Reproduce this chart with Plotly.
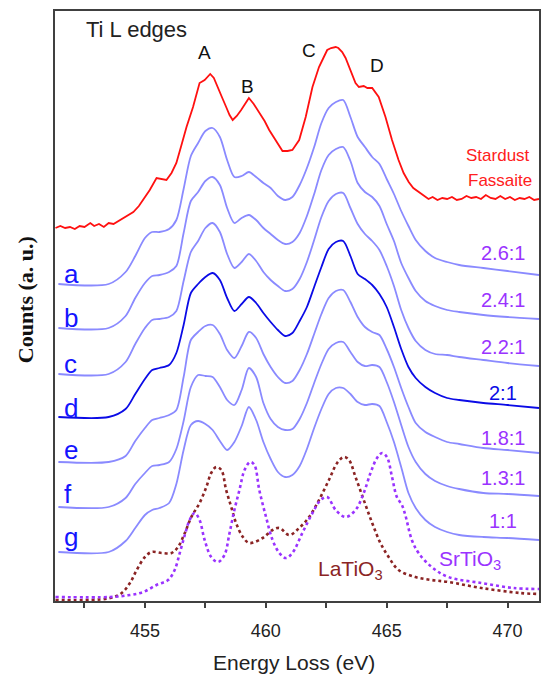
import plotly.graph_objects as go

# ---------------- data (arbitrary counts vs energy loss, eV) ----------------
ENERGY_GRID = [451.42, 453.5, 454.2, 454.6, 455.0, 455.3, 455.6, 456.0, 456.3, 456.6,
               456.9, 457.2, 457.5, 457.8, 458.1, 458.4, 458.7, 459.0, 459.3, 459.6,
               459.9, 460.2, 460.5, 460.8, 461.1, 461.4, 461.7, 462.0, 462.3, 462.6,
               462.9, 463.2, 463.5, 463.8, 464.1, 464.4, 464.7, 465.0, 465.3, 465.6,
               465.9, 466.2, 466.6, 467.0, 467.5, 468.0, 469.0, 470.0, 471.3]

CURVE_A = [0, 0, 12, 28, 46, 52, 52, 55, 64, 95,
           128, 141, 153, 156, 147, 124, 107, 108, 112, 107,
           101, 96, 88, 84, 87, 99, 116, 137, 161, 176,
           182, 184, 167, 147, 137, 127, 120, 105, 90, 73,
           58, 44, 33, 26, 22, 19, 16, 13, 9]
CURVE_B = [0, 0, 12, 30, 45, 52, 53, 56, 62, 95,
           127, 136, 147, 151, 143, 120, 105, 110, 113, 108,
           100, 94, 88, 84, 86, 95, 112, 134, 158, 173,
           179, 181, 167, 145, 136, 131, 122, 104, 87, 65,
           50, 37, 27, 22, 18, 16, 13, 11, 9]
CURVE_C = [0, 0, 12, 30, 46, 54, 55, 57, 63, 93,
           122, 133, 146, 151, 142, 120, 106, 112, 120, 113,
           102, 94, 88, 83, 85, 95, 112, 134, 157, 173,
           180, 181, 166, 150, 140, 133, 124, 108, 88, 64,
           46, 33, 24, 20, 19, 17, 14, 11, 8]
CURVE_D = [0, 0, 8, 23, 38, 47, 49, 52, 64, 92,
           124, 133, 140, 144, 137, 119, 106, 113, 120, 114,
           104, 95, 87, 81, 84, 96, 110, 130, 150, 168,
           175, 176, 161, 143, 138, 132, 123, 110, 90, 68,
           50, 39, 30, 24, 19, 17, 14, 12, 9]
CURVE_E = [0, 0, 6, 21, 34, 42, 44, 47, 52, 85,
           122, 130, 136, 137, 128, 112, 104, 116, 130, 124,
           108, 95, 85, 79, 81, 92, 108, 128, 148, 164,
           171, 172, 160, 145, 135, 130, 127, 113, 95, 74,
           55, 39, 30, 25, 20, 18, 14, 12, 9]
CURVE_F = [0, 0, 9, 23, 34, 41, 42, 45, 58, 86,
           120, 132, 131, 130, 120, 107, 102, 117, 139, 130,
           104, 88, 80, 77, 78, 88, 104, 124, 143, 158,
           164, 165, 155, 145, 141, 142, 140, 125, 105, 82,
           60, 45, 33, 26, 21, 18, 14, 13, 11]
CURVE_G = [0, 0, 11, 24, 37, 42, 44, 49, 68, 102,
           127, 131, 128, 122, 111, 102, 110, 126, 145, 132,
           110, 93, 80, 75, 77, 86, 103, 124, 143, 158,
           164, 164, 158, 150, 147, 148, 146, 130, 110, 85,
           59, 44, 32, 25, 20, 17, 15, 14, 12]

BLUE_CURVES = [CURVE_A, CURVE_B, CURVE_C, CURVE_D, CURVE_E, CURVE_F, CURVE_G]
SAMPLE_LETTERS = ["a", "b", "c", "d", "e", "f", "g"]
RATIO_LABELS = ["2.6:1", "2.4:1", "2.2:1", "2:1", "1.8:1", "1.3:1", "1:1"]
STACK_OFFSETS = [317, 273, 227, 184, 139, 94, 49]

STARDUST = [(451.30, 373), (451.5, 375), (451.7, 373), (451.9, 374), (452.1, 372),
            (452.3, 375), (452.5, 374), (452.74, 378), (452.9, 375), (453.1, 377),
            (453.3, 374), (453.5, 378), (453.7, 377), (453.97, 381), (454.2, 385),
            (454.52, 389), (454.75, 395), (454.93, 401), (455.2, 411), (455.48, 423),
            (455.7, 422), (455.89, 421), (456.1, 428), (456.30, 438), (456.5, 455),
            (456.72, 474), (456.99, 494), (457.26, 518), (457.47, 521), (457.60, 524),
            (457.70, 527), (457.85, 523), (458.02, 514), (458.2, 503), (458.36, 494),
            (458.50, 486), (458.63, 481), (458.8, 485), (458.98, 491), (459.15, 498),
            (459.30, 503), (459.5, 497), (459.73, 488), (459.95, 480), (460.14, 471),
            (460.35, 463), (460.56, 454), (460.69, 450), (460.9, 450), (461.10, 451),
            (461.38, 461), (461.65, 484), (461.93, 514), (462.20, 534), (462.40, 544),
            (462.54, 551), (462.70, 553), (462.89, 554), (463.0, 553), (463.16, 549),
            (463.30, 543), (463.44, 534), (463.71, 518), (463.85, 514), (464.05, 515),
            (464.2, 513), (464.40, 513), (464.67, 504), (464.95, 484), (465.22, 461),
            (465.49, 441), (465.7, 428), (465.91, 419), (466.1, 413), (466.32, 409),
            (466.5, 406), (466.73, 402), (466.9, 404), (467.1, 401), (467.3, 403),
            (467.5, 402), (467.7, 404), (467.9, 401), (468.1, 402), (468.3, 405),
            (468.5, 403), (468.7, 404), (468.9, 402), (469.1, 406), (469.3, 403),
            (469.5, 402), (469.7, 405), (469.9, 402), (470.1, 404), (470.3, 401),
            (470.5, 403), (470.7, 402), (470.9, 404), (471.1, 401), (471.3, 402)]

LATIO3 = [(451.30, 1), (452.74, 1), (453.56, 3), (454.04, 8), (454.38, 18), (454.66, 31),
          (455.00, 44), (455.28, 49), (455.69, 48), (456.10, 48), (456.37, 54), (456.65, 68),
          (456.92, 84), (457.26, 98), (457.54, 114), (457.74, 128), (457.95, 134),
          (458.16, 131), (458.36, 111), (458.57, 94), (458.77, 78), (459.05, 64),
          (459.32, 58), (459.87, 63), (460.28, 71), (460.56, 73), (460.97, 66),
          (461.38, 73), (461.79, 84), (462.20, 101), (462.61, 121), (462.95, 138),
          (463.23, 144), (463.44, 141), (463.71, 124), (464.05, 101), (464.40, 78),
          (464.74, 58), (465.08, 44), (465.49, 31), (466.18, 24), (466.86, 21),
          (467.55, 19), (468.92, 13), (470.51, 8), (471.30, 7)]

SRTIO3 = [(451.30, 4), (453.56, 4), (454.38, 6), (454.93, 9), (455.48, 16), (455.96, 21),
          (456.23, 31), (456.44, 48), (456.65, 66), (456.85, 81), (457.06, 88),
          (457.26, 81), (457.47, 61), (457.74, 44), (458.02, 39), (458.29, 46),
          (458.50, 68), (458.70, 91), (458.91, 111), (459.12, 131), (459.36, 139),
          (459.53, 136), (459.73, 111), (460.01, 84), (460.28, 61), (460.56, 48),
          (460.83, 43), (461.10, 48), (461.51, 68), (461.93, 88), (462.27, 101),
          (462.54, 104), (462.89, 91), (463.30, 84), (463.71, 91), (464.05, 108),
          (464.33, 128), (464.60, 143), (464.81, 148), (465.01, 144), (465.22, 124),
          (465.42, 104), (465.63, 96), (465.77, 86), (466.04, 61), (466.32, 48),
          (466.86, 34), (467.55, 24), (468.92, 18), (470.23, 13), (471.30, 12)]

# ---------------- figure ----------------
SANS = "Liberation Sans, Arial, sans-serif"
LIGHT_BLUE = "#8a8aff"
DARK_BLUE = "#0b0be6"
PURPLE = "#9a33ff"
BROWN = "#8b2424"

fig = go.Figure()

fig.add_trace(go.Scatter(x=[p[0] for p in LATIO3], y=[p[1] for p in LATIO3],
                         mode="lines", line=dict(color=BROWN, width=2.6, dash="dot", shape="spline"),
                         hoverinfo="skip"))
fig.add_trace(go.Scatter(x=[p[0] for p in SRTIO3], y=[p[1] for p in SRTIO3],
                         mode="lines", line=dict(color=PURPLE, width=2.6, dash="dot", shape="spline"),
                         hoverinfo="skip"))

for i, (curve, off) in enumerate(zip(BLUE_CURVES, STACK_OFFSETS)):
    col = DARK_BLUE if RATIO_LABELS[i] == "2:1" else LIGHT_BLUE
    fig.add_trace(go.Scatter(x=ENERGY_GRID, y=[v + off for v in curve], mode="lines",
                             line=dict(color=col, width=1.8, shape="spline", smoothing=0.8),
                             hoverinfo="skip"))

fig.add_trace(go.Scatter(x=[p[0] for p in STARDUST], y=[p[1] for p in STARDUST],
                         mode="lines", line=dict(color="#ff1010", width=1.8),
                         hoverinfo="skip"))

ann = []


def txt(x, y, s, size, color, xanchor="center", yanchor="middle", family=SANS, xref="x", yref="y", angle=0):
    ann.append(dict(x=x, y=y, xref=xref, yref=yref, text=s, showarrow=False,
                    xanchor=xanchor, yanchor=yanchor, textangle=angle,
                    font=dict(family=family, size=size, color=color)))


txt(452.5, 572, "Ti L edges", 22, "#222222", xanchor="left")
txt(457.47, 549, "A", 19, "#111111")
txt(459.25, 515, "B", 19, "#111111")
txt(461.79, 551, "C", 19, "#111111")
txt(464.59, 536, "D", 19, "#111111")
txt(469.62, 446, "Stardust", 17, "#ff2020")
txt(469.70, 421, "Fassaite", 17, "#ff2020")

ratio_y = [348, 301, 254, 208, 163, 123, 80]
letter_y = [327, 283, 237, 193, 151, 107, 64]
for i in range(7):
    col = DARK_BLUE if RATIO_LABELS[i] == "2:1" else PURPLE
    txt(469.81, ratio_y[i], RATIO_LABELS[i], 20, col)
    txt(451.58, letter_y[i], SAMPLE_LETTERS[i], 26, "#1414ff", xanchor="left")

txt(463.52, 31, "LaTiO<sub>3</sub>", 21, BROWN)
txt(468.46, 41, "SrTiO<sub>3</sub>", 21, PURPLE)

txt(0.4938, -0.1034, "Energy Loss (eV)", 21, "#222222", xref="paper", yref="paper")
txt(-0.0617, 0.51, "<b>Counts (a. u.)</b>", 22, "#111111", family="Liberation Serif, Times New Roman, serif",
    xref="paper", yref="paper", angle=-90)

fig.update_layout(
    width=542, height=674,
    margin=dict(l=55, r=1, t=11, b=73),
    paper_bgcolor="white", plot_bgcolor="white",
    showlegend=False,
    annotations=ann,
    xaxis=dict(range=[451.28, 471.3], showgrid=False, zeroline=False,
               showline=True, mirror=True, linecolor="#404040", linewidth=1.5,
               ticks="outside", ticklen=5, tickwidth=1.5, tickcolor="#404040",
               tick0=455, dtick=5,
               minor=dict(tick0=452.5, dtick=2.5, ticks="outside", ticklen=5, tickwidth=1.5,
                          tickcolor="#404040", showgrid=False),
               tickfont=dict(family=SANS, size=18, color="#222222"),
               ticklabelstandoff=8),
    yaxis=dict(range=[0, 590], showgrid=False, zeroline=False,
               showline=True, mirror=True, linecolor="#404040", linewidth=1.5,
               showticklabels=False, ticks=""),
)

fig.write_html("out.html", config={"displayModeBar": False},
               post_script="document.body.style.margin='0';document.body.style.padding='0';"
                           "document.body.style.overflow='hidden';")
